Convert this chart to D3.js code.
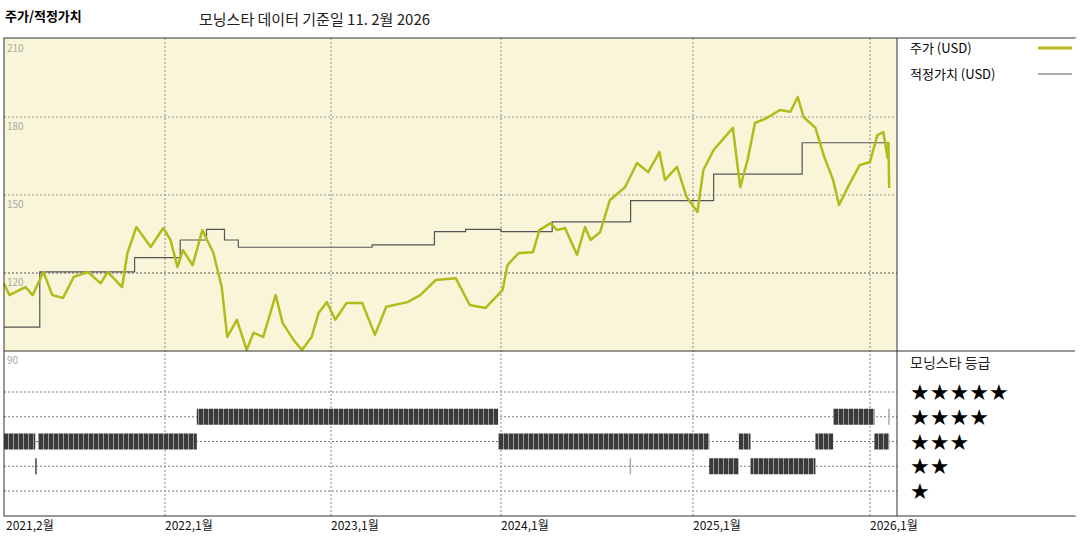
<!DOCTYPE html>
<html><head><meta charset="utf-8">
<script src="https://cdn.jsdelivr.net/npm/d3@7"></script>
<style>body{margin:0;background:#fff}svg{font-family:"Noto Sans CJK KR",sans-serif}</style>
</head><body><svg id="c" width="1080" height="540"></svg>
<script>
// month = months since Jan 2021
var tickMonths = [3, 12, 24, 36, 48, 60];
var tickLabels = ['2021,2월', '2022,1월', '2023,1월', '2024,1월', '2025,1월', '2026,1월'];
var yTicks = [210, 180, 150, 120, 90];

var price = [
  [3,116],[3.3,111.5],[4.2,114.6],[4.6,111.5],[5.2,120.4],[5.7,111.5],[6.3,110.4],[6.9,118.5],
  [7.7,120.4],[8.4,116],[8.8,120.4],[9.6,114.6],[9.9,127.7],[10.4,137.7],[11.2,130],[11.9,137.3],
  [12.4,132.7],[12.9,122.3],[13.3,128.8],[14.0,123],[14.7,136.5],[15.5,127.7],[16.1,114.6],[16.5,95.4],
  [17.2,102],[17.9,90.4],[18.4,97],[19.1,95.4],[20.0,111.5],[20.5,100.8],[21.3,94.2],[21.9,90.4],
  [22.6,95.4],[23.1,104.6],[23.7,108.8],[24.3,102],[25.1,108.5],[26.2,108.5],[27.1,96.2],[27.9,107],
  [29.4,108.8],[30.3,111.5],[31.4,117.3],[32.8,118],[33.8,107.7],[34.9,106.5],[36.1,113.5],[36.4,123],
  [37.1,127.7],[38.0,128],[38.4,136.5],[39.1,139.2],[39.5,136.5],[40.0,137.3],[40.75,127],[41.25,137.7],
  [41.6,132.7],[42.2,135.8],[42.8,148],[43.75,153],[44.5,162.3],[45.2,158.8],[45.9,166.5],[46.25,155.8],
  [47.0,160.8],[47.6,149.2],[48.3,143.5],[48.7,159.6],[49.4,167.3],[50.7,175.8],[51.2,153],[51.7,163.5],
  [52.2,177.7],[53.0,179.6],[53.9,182.7],[54.6,182],[55.1,187.7],[55.5,180],[56.3,175.8],[56.9,164.6],
  [57.5,155.8],[57.9,146.2],[58.5,153],[59.3,161.5],[60.0,162.7],[60.5,173],[60.9,174.2],[61.2,164.2],
  [61.25,170],[61.3,152.7]
];

var fairValue = [
  [3,99.2],[5.0,120.4],[10.3,125.9],[13.1,132.7],[15.0,136.8],[16.3,132.7],[17.3,129.9],[26.9,130.8],
  [31.3,135.9],[33.5,136.8],[36,135.9],[39.2,139.7],[44.1,147.8],[49.4,158],[55.4,170.1],[61.3,170.1]
];

// [start month, end month, stars]
var ratings = [
  [3,4.75,3],[4.9,14.3,3],[14.3,35.8,4],[35.8,49.1,3],[49.1,51.1,2],[51.1,51.9,3],
  [51.9,56.3,2],[56.3,57.5,3],[57.5,60.3,4],[60.3,61.3,3]
];
var ratingTicks = [[4.8,2],[44.1,2],[61.3,4]];

var svg = d3.select('#c');
var pLeft = 4, pRight = 897, pTop = 38, pMid = 351, pBottom = 516;

var x = d3.scaleLinear().domain([3, 12, 24, 36, 48, 60, 62]).range([4, 165, 331, 501, 693, 870, 899.5]);
var y = d3.scaleLinear().domain([90, 210]).range([pMid, pTop + 1]);
var yr = d3.scaleLinear().domain([5, 1]).range([392, 491]);

// pattern for rating bars
var defs = svg.append('defs');
var pat = defs.append('pattern').attr('id', 'bars').attr('patternUnits', 'userSpaceOnUse')
  .attr('width', 5).attr('height', 10);
pat.append('rect').attr('width', 5).attr('height', 10).attr('fill', '#3a3a3a');
pat.append('rect').attr('x', 3).attr('width', 1).attr('height', 10).attr('fill', '#9a9a9a');

svg.append('rect').attr('x', pLeft).attr('y', pTop).attr('width', pRight - pLeft).attr('height', pMid - pTop)
  .attr('fill', '#f9f5d8');

// horizontal grid upper
svg.selectAll('.hg').data([180, 150, 120]).enter().append('line')
  .attr('x1', pLeft).attr('x2', pRight).attr('y1', d => y(d)).attr('y2', d => y(d))
  .attr('stroke', d => d === 120 ? '#555' : '#999').attr('stroke-dasharray', '2,2');
// rating grid lower
svg.selectAll('.rg').data([5, 4, 3, 2, 1]).enter().append('line')
  .attr('x1', pLeft).attr('x2', pRight).attr('y1', d => yr(d)).attr('y2', d => yr(d))
  .attr('stroke', '#777').attr('stroke-dasharray', '2,2');
// vertical grid
svg.selectAll('.vg').data(tickMonths.slice(1)).enter().append('line')
  .attr('x1', d => x(d)).attr('x2', d => x(d)).attr('y1', pTop).attr('y2', pBottom)
  .attr('stroke', '#888').attr('stroke-dasharray', '2,2');

svg.selectAll('.yl').data(yTicks).enter().append('text')
  .attr('x', 7).attr('y', d => y(d) + 13).attr('font-size', 10).attr('fill', '#aaa').text(d => d);

// rating bars
svg.selectAll('.rb').data(ratings).enter().append('rect')
  .attr('x', d => x(d[0])).attr('width', d => x(d[1]) - x(d[0]))
  .attr('y', d => yr(d[2]) - 8).attr('height', 16).attr('fill', 'url(#bars)');
svg.selectAll('.rt').data(ratingTicks).enter().append('rect')
  .attr('x', d => x(d[0]) - 1).attr('width', 1.5).attr('y', d => yr(d[1]) - 8).attr('height', 16)
  .attr('fill', d => d[0] > 40 ? '#aaa' : '#444');

// fair value step line
svg.append('path').datum(fairValue)
  .attr('d', d3.line().x(d => x(d[0])).y(d => y(d[1])).curve(d3.curveStepAfter))
  .attr('fill', 'none').attr('stroke', '#555').attr('stroke-width', 1.2);

// price line
svg.append('path').datum(price)
  .attr('d', d3.line().x(d => x(d[0])).y(d => y(d[1])))
  .attr('fill', 'none').attr('stroke', '#b3bb1c').attr('stroke-width', 2.5).attr('stroke-linejoin', 'round');

// frame
svg.append('rect').attr('x', pLeft).attr('y', pTop).attr('width', 1076 - pLeft).attr('height', pBottom - pTop)
  .attr('fill', 'none').attr('stroke', '#333');
svg.append('line').attr('x1', pRight).attr('x2', pRight).attr('y1', pTop).attr('y2', pBottom).attr('stroke', '#333');
svg.append('line').attr('x1', pLeft).attr('x2', 1076).attr('y1', pMid).attr('y2', pMid).attr('stroke', '#333');
svg.append('line').attr('x1', 1076).attr('x2', 1076).attr('y1', pTop).attr('y2', pBottom).attr('stroke', '#fff').attr('stroke-width', 2);

// x labels
svg.selectAll('.xl').data(tickMonths).enter().append('text')
  .attr('x', (d, i) => x(d) + (i === 0 ? 2 : 0)).attr('y', 530).attr('font-size', 12).attr('fill', '#111')
  .text((d, i) => tickLabels[i]);

// titles
svg.append('text').attr('x', 5).attr('y', 21).attr('font-size', 13).attr('font-weight', 'bold').text('주가/적정가치');
svg.append('text').attr('x', 199).attr('y', 25).attr('font-size', 15).attr('fill', '#222').text('모닝스타 데이터 기준일 11. 2월 2026');

// legend
svg.append('text').attr('x', 910).attr('y', 53).attr('font-size', 13).text('주가 (USD)');
svg.append('line').attr('x1', 1038).attr('x2', 1072).attr('y1', 48).attr('y2', 48).attr('stroke', '#b3bb1c').attr('stroke-width', 3);
svg.append('text').attr('x', 910).attr('y', 79).attr('font-size', 13).text('적정가치 (USD)');
svg.append('line').attr('x1', 1038).attr('x2', 1072).attr('y1', 74).attr('y2', 74).attr('stroke', '#555').attr('stroke-width', 1.2);
svg.append('text').attr('x', 910).attr('y', 368).attr('font-size', 14).attr('fill', '#222').text('모닝스타 등급');
svg.selectAll('.st').data([5, 4, 3, 2, 1]).enter().append('text')
  .attr('x', 910).attr('y', d => yr(d) + 8).attr('font-size', 22).attr('font-family', 'DejaVu Sans')
  .text(d => '★'.repeat(d));
</script></body></html>
